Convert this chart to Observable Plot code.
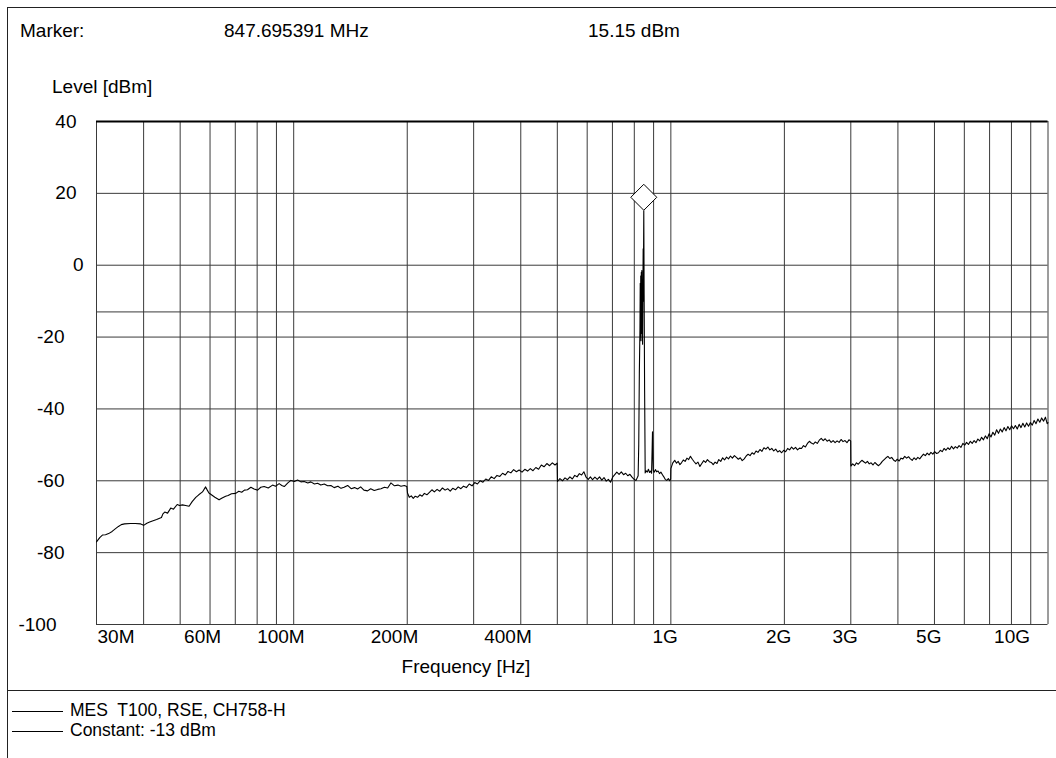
<!DOCTYPE html>
<html>
<head>
<meta charset="utf-8">
<script src="https://cdn.jsdelivr.net/npm/d3@7"></script>
<script src="https://cdn.jsdelivr.net/npm/@observablehq/plot@0.6"></script>
<style>
  html, body { margin: 0; padding: 0; background: #fff; }
  #page { position: relative; width: 1056px; height: 758px; overflow: hidden; background: #fff;
          font-family: "Liberation Sans", Arial, Helvetica, sans-serif; color: #000; }
  #frame { position: absolute; left: 7px; top: 7px; width: 1060px; height: 760px;
           border-left: 1px solid #222; border-top: 1px solid #222; }
  #sep { position: absolute; left: 7px; top: 690px; width: 1060px; height: 0; border-top: 1px solid #222; }
  .t { position: absolute; font-size: 19px; line-height: 22px; height: 22px; white-space: pre; }
  .t.s { font-size: 17.5px; line-height: 19px; height: 19px; }
  .lg { position: absolute; left: 12px; width: 51px; height: 0; border-top: 1px solid #000; }
  #chart { position: absolute; left: 0; top: 0; }
</style>
</head>
<body>
<div id="page">
  <div id="frame"></div>
  <div id="sep"></div>
  <div id="chart"></div>
  <div class="t" id="mk0" style="left:20px; top:20px;"></div>
  <div class="t" id="mk1" style="left:224px; top:20px;"></div>
  <div class="t" id="mk2" style="left:588px; top:20px;"></div>
  <div class="t" id="ylab" style="left:52px; top:76px;"></div>
  <div class="t" id="xlab" style="left:366px; width:200px; text-align:center; top:656px;"></div>
  <div class="lg" style="top:711px;"></div>
  <div class="t s" id="lg0" style="left:70px; top:701px;"></div>
  <div class="lg" style="top:731px;"></div>
  <div class="t s" id="lg1" style="left:70px; top:721px;"></div>
</div>
<script>
// ---------- text ----------
const markerLabel = "Marker:";
const markerFreqText = "847.695391 MHz";
const markerLevelText = "15.15 dBm";
const yAxisTitle = "Level [dBm]";
const xAxisTitle = "Frequency [Hz]";
const legendLabels = ["MES  T100, RSE, CH758-H", "Constant: -13 dBm"];

// ---------- marker & limit ----------
const markerFreqMHz = 847.695391;
const markerLevel = 15.15;
const constantLevel = -13;

// ---------- axes ----------
const xTickMHz = [30, 60, 100, 200, 400, 1000, 2000, 3000, 5000, 10000];
const xTickLabels = ["30M", "60M", "100M", "200M", "400M", "1G", "2G", "3G", "5G", "10G"];
const xGridMHz = [30, 40, 50, 60, 70, 80, 90, 100, 200, 300, 400, 500, 600, 700, 800, 900,
                  1000, 2000, 3000, 4000, 5000, 6000, 7000, 8000, 9000, 10000];
const yTicks = [40, 20, 0, -20, -40, -60, -80, -100];

// ---------- trace (MHz, dBm) ----------
const traceFreqMHz = [
  30, 30.6, 31.1, 31.7, 32.3, 33.0, 33.7, 34.3, 34.9, 35.6, 36.9, 38.0, 39.3, 40.0, 40.8, 41.5, 42.2, 43.3, 44.6, 45.0,
  45.5, 46.3, 47.2, 48.0, 49.1, 49.8, 50.7, 51.7, 52.8, 53.8, 55.0, 56.0, 57.3, 58.4, 59.0, 59.6, 60.5, 61.8, 63.4, 64.6,
  66.0, 67.0, 68.4, 70.2, 71.5, 72.8, 74.0, 75.4, 77.0, 78.5, 80.2, 81.8, 83.5, 85.6, 87.9, 89.5, 91.5, 93.0, 94.4, 96.5,
  98.3, 100.4, 102.4, 104.5, 106.6, 109, 111, 113.5, 115.7, 118, 120.5, 123, 125.5, 128, 131, 133.5, 136, 139, 142, 145,
  147.7, 150.5, 153.5, 157, 160, 163.5, 167, 170.4, 174, 177.5, 181, 185, 189, 192.5, 196.5, 199.5,
  200.3, 202.5, 205, 207.5, 210, 213, 216, 219, 222, 225.5, 229, 232.5, 236, 240, 244, 248, 252, 256, 260, 264,
  268.5, 273, 277.5, 282, 287, 292, 297, 302, 307, 312, 317.5, 323, 328.5, 334, 340, 346, 352, 358, 364, 370,
  376.5, 383, 389.5, 396, 403, 410, 417, 424, 431, 438.5, 446, 453.5, 461, 469, 477, 485, 493, 499.5,
  500.5, 508, 516, 524, 532, 540, 548, 556, 564, 572, 580, 588, 596, 604, 612, 620, 629, 638, 647, 656,
  665, 674, 683, 692, 701, 710, 719, 729, 739, 749, 759, 769, 779, 789, 799, 808, 815, 819, 822, 825,
  828, 829.5, 831, 832, 833.5, 835, 836, 837.5, 839, 840, 841.5, 843, 844.5, 845.5, 846.5, 847.695391, 849.5, 852, 855, 860,
  866, 872, 878, 884, 889, 892.5, 894, 895.5, 898, 903, 910, 917, 925, 933, 941, 950, 958, 966, 975, 985,
  993, 999,
  1000, 1012, 1024, 1035, 1046, 1057, 1067, 1079, 1091, 1103, 1115, 1127, 1140, 1153, 1166, 1180, 1194, 1208, 1222, 1236,
  1250, 1265, 1280, 1295, 1310, 1325, 1340, 1356, 1372, 1388, 1405, 1422, 1439, 1456, 1474, 1492, 1510, 1528, 1546, 1565,
  1584, 1603, 1622, 1642, 1662, 1682, 1702, 1723, 1744, 1765, 1786, 1808, 1830, 1852, 1874, 1897, 1920, 1943, 1967, 1991,
  2015, 2040, 2065, 2090, 2115, 2141, 2167, 2193, 2220, 2247, 2274, 2302, 2330, 2358, 2387, 2416, 2445, 2475, 2505, 2535,
  2566, 2597, 2629, 2661, 2693, 2726, 2759, 2793, 2827, 2861, 2896, 2931, 2966, 2998,
  3002, 3035, 3070, 3105, 3140, 3175, 3210, 3246, 3283, 3320, 3358, 3396, 3435, 3474, 3514, 3554, 3595, 3636, 3678, 3720,
  3763, 3806, 3850, 3894, 3939, 3984, 4030, 4076, 4123, 4170, 4218, 4267, 4316, 4365, 4415, 4466, 4517, 4569, 4622, 4675,
  4729, 4783, 4838, 4894, 4950, 5007, 5065, 5123, 5182, 5242, 5302, 5363, 5425, 5488, 5551, 5615, 5680, 5745, 5811, 5878,
  5946, 6014, 6083, 6153, 6224, 6296, 6369, 6442, 6516, 6591, 6667, 6744, 6822, 6900, 6980, 7060, 7142, 7224, 7307, 7391,
  7476, 7562, 7650, 7738, 7827, 7917, 8008, 8101, 8194, 8289, 8384, 8481, 8578, 8677, 8777, 8879, 8981, 9085, 9189, 9295,
  9402, 9511, 9620, 9731, 9843, 9950, 10000
];
const traceLevel = [
  -77.0, -75.8, -75.1, -75.0, -74.7, -74.1, -73.3, -72.7, -72.2, -72.0, -71.9, -71.9, -72.0, -72.4, -71.8, -71.5, -71.2, -70.8, -70.2, -69.2,
  -68.7, -69.0, -67.6, -67.9, -66.6, -66.9, -66.7, -66.9, -67.1, -65.8, -64.6, -63.9, -63.1, -61.7, -62.6, -63.4, -63.9, -64.6, -65.3, -64.8,
  -64.3, -64.1, -63.6, -63.5, -62.9, -63.2, -62.6, -62.5, -61.8, -62.3, -62.6, -61.8, -61.6, -62.0, -61.2, -61.5, -60.8, -61.3, -61.6, -60.6,
  -59.9, -60.2, -59.8, -60.3, -60.2, -60.6, -60.3, -60.9, -60.7, -61.2, -60.9, -61.4, -61.3, -61.9, -61.5, -62.1, -61.8, -61.3, -62.2, -61.9,
  -62.3, -61.7, -62.6, -62.8, -62.2, -62.7, -62.4, -62.2, -61.8, -62.0, -60.6, -61.4, -61.2, -61.5, -61.3, -61.6,
  -63.4, -64.6, -64.2, -64.9, -64.3, -64.6, -63.9, -64.3, -63.5, -63.9, -63.2, -62.5, -63.1, -62.4, -62.9, -62.0, -62.6, -62.2, -62.9, -62.1,
  -62.5, -61.7, -62.2, -61.5, -61.9, -60.9, -61.4, -60.5, -60.9, -60.0, -60.4, -59.5, -59.9, -58.9, -59.4, -58.5, -58.8, -57.9, -58.4, -57.4,
  -57.8, -56.9, -57.5, -57.0, -57.6, -56.8, -57.3, -56.6, -57.2, -56.3, -56.8, -55.6, -56.1, -55.2, -55.8, -55.0, -55.6, -55.1,
  -60.2, -59.4, -60.0, -59.2, -59.7, -58.9, -59.5, -58.5, -58.9, -58.0, -58.4, -57.5, -59.0, -59.6, -58.9, -59.7, -59.0, -59.6, -58.9, -59.8,
  -59.1, -60.1, -59.6, -60.4, -59.0, -58.3, -57.6, -58.2, -57.5, -58.3, -57.9, -58.6, -58.2, -59.0, -59.6, -59.9, -59.1, -58.6, -50, -30,
  -18, -5, -20, -3, -21, -2, -19, -1.5, -17, -6, -22, -8, 4.6, -10, 3, 15.15, -8, -35, -57.8, -57.2,
  -57.6, -56.8, -57.7, -57.3, -57.9, -50, -46.4, -50.5, -57.1, -57.6, -56.9, -57.5, -57.3, -58.0, -57.6, -58.3, -58.9, -59.6, -59.9, -59.4,
  -60.0, -59.5,
  -56.6, -55.0, -54.3, -55.1, -54.6, -55.5, -55.0, -54.2, -54.6, -53.7, -54.1, -53.2, -54.0, -54.7, -55.3, -54.8, -56.0, -55.2, -54.4, -54.9,
  -54.1, -54.7, -54.9, -55.5, -54.8, -55.2, -54.1, -54.6, -53.6, -54.2, -53.4, -53.9, -53.1, -53.7, -53.0, -53.5, -54.0, -53.6, -54.4, -53.9,
  -53.1, -52.6, -53.0, -52.2, -52.6, -51.7, -52.1, -51.3, -51.8, -50.8, -51.2, -50.6, -51.4, -51.0, -51.7, -51.2, -52.0, -51.6, -52.2, -51.5,
  -51.9, -51.0, -51.4, -50.6, -51.2, -50.7, -51.4, -50.9, -51.0, -50.2, -50.6, -49.6, -49.0, -49.5, -49.8, -49.2, -49.6, -48.7, -48.2, -48.8,
  -48.3, -49.0, -48.6, -49.3, -48.8, -49.4, -48.9, -49.3, -48.5, -49.1, -48.8, -49.4, -48.6, -48.9,
  -55.9, -55.3, -55.8, -55.0, -55.4, -54.8, -54.3, -54.7, -55.1, -54.6, -55.3, -55.0, -55.6, -54.9, -55.4, -55.8, -55.3, -54.6, -54.1, -53.6,
  -53.2, -53.8, -53.5, -54.2, -54.6, -54.0, -54.5, -53.7, -53.9, -53.2, -53.7, -53.3, -53.9, -54.3, -53.6, -54.1, -53.5, -53.9, -53.2, -52.6,
  -53.0, -52.3, -52.8, -52.1, -52.6, -51.9, -52.4, -52.2, -51.5, -51.9, -51.0, -51.5, -50.8, -51.3, -50.4, -51.1, -50.5, -50.9, -50.2, -50.7,
  -49.6, -50.1, -49.3, -49.9, -49.0, -49.6, -48.8, -49.4, -48.4, -48.9, -47.9, -48.6, -47.5, -48.3, -46.9, -47.8, -46.5, -47.3, -45.8, -46.8,
  -45.6, -46.4, -45.2, -46.1, -44.9, -45.8, -44.7, -45.5, -44.6, -45.6, -44.3, -45.2, -44.0, -45.0, -43.9, -44.8, -43.8, -44.5, -43.2, -44.1,
  -42.8, -43.7, -42.5, -43.4, -42.3, -44.1, -43.8
];

// ---------- build ----------
const trace = traceFreqMHz.map((f, i) => ({hz: f * 1e6, level: traceLevel[i]}));
const xTicks = xTickMHz.map((f, i) => ({hz: f * 1e6, label: xTickLabels[i]}));
const font = '"Liberation Sans", Arial, Helvetica, sans-serif';
const grid = "#3a3a3a";

const txt = (data, opts) => Plot.text(data, {fontSize: 19, fontFamily: font, fill: "#000", ...opts});

const chart = Plot.plot({
  width: 1056,
  height: 690,
  marginLeft: 96,
  marginRight: 8.5,
  marginTop: 121,
  marginBottom: 66,
  x: {type: "log", domain: [30e6, 10e9], axis: null},
  y: {domain: [-100, 40], axis: null},
  style: {background: "transparent", fontFamily: font, overflow: "visible"},
  marks: [
    Plot.ruleX(xGridMHz, {x: d => d * 1e6, stroke: grid, strokeWidth: 1}),
    Plot.ruleY(yTicks, {y: d => d, stroke: grid, strokeWidth: 1}),
    Plot.ruleY([constantLevel], {y: d => d, stroke: grid, strokeWidth: 1}),
    Plot.ruleY([yTicks[0]], {y: d => d, stroke: "#000", strokeWidth: 2}),
    Plot.line(trace, {x: "hz", y: "level", stroke: "#000", strokeWidth: 1.1, curve: "linear"}),
    Plot.dot([{hz: markerFreqMHz * 1e6, level: markerLevel}], {
      x: "hz", y: "level", symbol: "diamond2", r: 11.7, fill: "#fff", stroke: "#000", strokeWidth: 1, dy: -13.5
    }),
    // x tick labels
    txt(xTicks.filter(d => d.label === "30M"), {x: "hz", text: "label", frameAnchor: "bottom", dy: 18, textAnchor: "start", dx: 1}),
    txt(xTicks.filter(d => d.label.endsWith("M") && d.label !== "30M"), {x: "hz", text: "label", frameAnchor: "bottom", dy: 18, textAnchor: "end", dx: 11}),
    txt(xTicks.filter(d => d.label.endsWith("G") && d.label !== "10G"), {x: "hz", text: "label", frameAnchor: "bottom", dy: 18, textAnchor: "end", dx: 7}),
    txt(xTicks.filter(d => d.label === "10G"), {x: "hz", text: "label", frameAnchor: "bottom", dy: 18, textAnchor: "end", dx: -18}),
    // y tick labels
    txt(yTicks.filter(d => d > 0), {y: d => d, text: d => String(d), frameAnchor: "left", textAnchor: "end", dx: -20}),
    txt(yTicks.filter(d => d === 0), {y: d => d, text: d => String(d), frameAnchor: "left", textAnchor: "end", dx: -13}),
    txt(yTicks.filter(d => d < 0 && d > -100), {y: d => d, text: d => String(d), frameAnchor: "left", textAnchor: "end", dx: -32}),
    txt(yTicks.filter(d => d === -100), {y: d => d, text: d => String(d), frameAnchor: "left", textAnchor: "end", dx: -40})
  ]
});
document.getElementById("chart").appendChild(chart);

document.getElementById("mk0").textContent = markerLabel;
document.getElementById("mk1").textContent = markerFreqText;
document.getElementById("mk2").textContent = markerLevelText;
document.getElementById("ylab").textContent = yAxisTitle;
document.getElementById("xlab").textContent = xAxisTitle;
document.getElementById("lg0").textContent = legendLabels[0];
document.getElementById("lg1").textContent = legendLabels[1];
</script>
</body>
</html>
